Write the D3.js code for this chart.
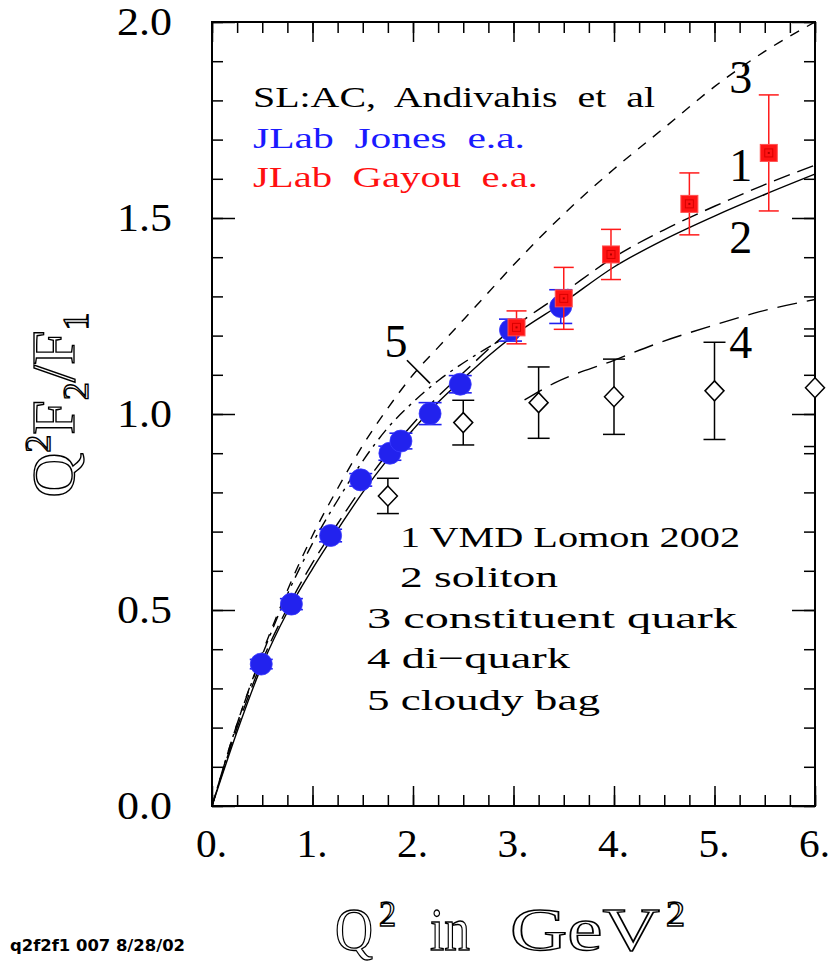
<!DOCTYPE html>
<html>
<head>
<meta charset="utf-8">
<script src="https://cdn.jsdelivr.net/npm/d3@7/dist/d3.min.js"></script>
<style>
  body { margin: 0; background: #fff; }
  svg { display: block; }
  text { white-space: pre; }
</style>
</head>
<body>
<svg id="chart" width="830" height="962"></svg>
<script>
// ---- model curves: Q^2 F2/F1 tabulated vs Q^2 (GeV^2) ----
const modelQ2 = [0, 0.25, 0.5, 0.75, 1, 1.25, 1.5, 1.75, 2, 2.25, 2.5, 2.75, 3, 3.5, 4, 4.5, 5, 5.5, 6];
const vmdLomon = [0, 0.20, 0.37, 0.505, 0.62, 0.72, 0.815, 0.90, 0.975, 1.045, 1.105, 1.165, 1.22, 1.31, 1.40, 1.47, 1.53, 1.585, 1.635];
const soliton = [0, 0.19, 0.36, 0.495, 0.605, 0.705, 0.80, 0.885, 0.96, 1.03, 1.09, 1.148, 1.20, 1.285, 1.375, 1.445, 1.505, 1.56, 1.612];
const constituentQuark = [0, 0.21, 0.39, 0.55, 0.69, 0.81, 0.92, 1.015, 1.10, 1.17, 1.24, 1.31, 1.38, 1.51, 1.625, 1.73, 1.835, 1.925, 2.0];
const cloudyBagQ2 = [0, 0.25, 0.5, 0.75, 1, 1.25, 1.5, 1.75, 2, 2.25, 2.5, 2.75, 3];
const cloudyBag = [0, 0.21, 0.385, 0.54, 0.67, 0.78, 0.88, 0.965, 1.03, 1.085, 1.13, 1.17, 1.205];
const diquarkQ2 = [3.11, 3.4, 4.0, 4.43, 5.0, 5.45, 6.0];
const diquark = [1.036, 1.078, 1.137, 1.18, 1.227, 1.261, 1.292];

// ---- data sets ----
const slacQ2 = [1.75, 2.5, 3.25, 4.0, 5.0, 6.0];
const slacVal = [0.791, 0.978, 1.029, 1.044, 1.059, 1.067];
const slacErr = [0.045, 0.057, 0.091, 0.096, 0.124, 0.15];

const jonesQ2 = [0.49, 0.79, 1.18, 1.48, 1.77, 1.88, 2.17, 2.47, 2.97, 3.47];
const jonesVal = [0.362, 0.515, 0.690, 0.832, 0.900, 0.931, 1.001, 1.076, 1.214, 1.274];
const jonesErr = [0.012, 0.014, 0.016, 0.016, 0.018, 0.020, 0.028, 0.022, 0.028, 0.043];

const gayouQ2 = [3.03, 3.50, 3.97, 4.75, 5.54];
const gayouVal = [1.221, 1.295, 1.407, 1.536, 1.666];
const gayouErr = [0.042, 0.079, 0.064, 0.079, 0.148];

// ---- axis ticks ----
const xMajorTicks = [0, 1, 2, 3, 4, 5, 6];
const xTickLabels = ["0.", "1.", "2.", "3.", "4.", "5.", "6."];
const yMajorTicks = [0, 0.5, 1.0, 1.5, 2.0];
const yTickLabels = ["0.0", "0.5", "1.0", "1.5", "2.0"];
const xMinorStep = 0.25;
const yMinorStep = 0.1;

const svg = d3.select("#chart");
const serif = "'Liberation Serif', 'DejaVu Serif', serif";

const x = d3.scaleLinear().domain([0, 6]).range([212, 815]);
const y = d3.scaleLinear().domain([0, 2]).range([806, 22]);

svg.append("defs").append("clipPath").attr("id", "plotClip")
  .append("rect")
  .attr("x", x(0)).attr("y", y(2))
  .attr("width", x(6) - x(0)).attr("height", y(0) - y(2));

// ---- frame and inward ticks on all four sides ----
const xMinor = d3.range(0, 6 + 1e-9, xMinorStep);
const yMinor = d3.range(0, 2 + 1e-9, yMinorStep);

function drawAxis(axis, transform) {
  const g = svg.append("g").attr("transform", transform).call(axis);
  g.select(".domain").remove();
  g.selectAll("text").remove();
  g.selectAll("line").attr("stroke", "#000").attr("stroke-width", 1.5);
}
drawAxis(d3.axisBottom(x).tickValues(xMinor).tickSize(-11), `translate(0,${y(0)})`);
drawAxis(d3.axisBottom(x).tickValues(xMajorTicks).tickSize(-20), `translate(0,${y(0)})`);
drawAxis(d3.axisTop(x).tickValues(xMinor).tickSize(-11), `translate(0,${y(2)})`);
drawAxis(d3.axisTop(x).tickValues(xMajorTicks).tickSize(-20), `translate(0,${y(2)})`);
drawAxis(d3.axisLeft(y).tickValues(yMinor).tickSize(-11), `translate(${x(0)},0)`);
drawAxis(d3.axisLeft(y).tickValues(yMajorTicks).tickSize(-23), `translate(${x(0)},0)`);
drawAxis(d3.axisRight(y).tickValues(yMinor).tickSize(-11), `translate(${x(6)},0)`);
drawAxis(d3.axisRight(y).tickValues(yMajorTicks).tickSize(-23), `translate(${x(6)},0)`);

svg.append("rect")
  .attr("x", x(0)).attr("y", y(2))
  .attr("width", x(6) - x(0)).attr("height", y(0) - y(2))
  .attr("fill", "none").attr("stroke", "#000").attr("stroke-width", 2);

// tick labels (wide roman digits)
svg.append("g").selectAll("text").data(xMajorTicks).join("text")
  .attr("x", d => x(d) - 16).attr("y", 857)
  .attr("font-family", serif).attr("font-size", 40)
  .attr("textLength", 31).attr("lengthAdjust", "spacingAndGlyphs")
  .text((d, i) => xTickLabels[i]);

svg.append("g").selectAll("text").data(yMajorTicks).join("text")
  .attr("x", 117).attr("y", d => y(d) + 13)
  .attr("font-family", serif).attr("font-size", 40)
  .attr("textLength", 55).attr("lengthAdjust", "spacingAndGlyphs")
  .text((d, i) => yTickLabels[i]);

// ---- axis titles (outlined lettering) ----
const outline = sel => sel
  .attr("font-family", serif)
  .attr("fill", "#fff").attr("stroke", "#000").attr("stroke-width", 1.4)
  .attr("lengthAdjust", "spacingAndGlyphs");

const xTitleParts = [
  { t: "Q", x0: 335, yb: 950, fs: 62, len: 38 },
  { t: "2", x0: 379, yb: 926, fs: 36, len: 17 },
  { t: "in", x0: 430, yb: 950, fs: 62, len: 40 },
  { t: "GeV", x0: 510, yb: 950, fs: 62, len: 150 },
  { t: "2", x0: 666, yb: 926, fs: 36, len: 19 }
];
svg.append("g").selectAll("text").data(xTitleParts).join("text")
  .call(outline)
  .attr("x", d => d.x0).attr("y", d => d.yb)
  .attr("font-size", d => d.fs)
  .attr("textLength", d => d.len)
  .text(d => d.t);

const yt = svg.append("text")
  .attr("transform", "translate(74,405) rotate(-90)")
  .attr("text-anchor", "middle")
  .attr("font-family", serif).attr("font-size", 62)
  .attr("fill", "#fff").attr("stroke", "#000").attr("stroke-width", 1.4);
yt.append("tspan").text("Q");
yt.append("tspan").attr("font-size", 36).attr("dy", -24).text("2");
yt.append("tspan").attr("dy", 24).text("F");
yt.append("tspan").attr("font-size", 36).attr("dy", 14).text("2");
yt.append("tspan").attr("dy", -14).text("/F");
yt.append("tspan").attr("font-size", 36).attr("dy", 14).text("1");

// footnote
svg.append("text")
  .attr("x", 10).attr("y", 951)
  .attr("font-family", "'DejaVu Sans Condensed', 'DejaVu Sans', sans-serif")
  .attr("font-weight", "bold").attr("font-size", 15)
  .attr("textLength", 175).attr("lengthAdjust", "spacingAndGlyphs")
  .text("q2f2f1 007 8/28/02");

// ---- model curves ----
const curves = svg.append("g").attr("clip-path", "url(#plotClip)")
  .attr("fill", "none").attr("stroke", "#000").attr("stroke-width", 1.4);

function drawCurve(qs, vals, dash) {
  const pts = qs.map((q, i) => [q, vals[i]]);
  curves.append("path")
    .attr("d", d3.line().x(d => x(d[0])).y(d => y(d[1])).curve(d3.curveMonotoneX)(pts))
    .attr("stroke-dasharray", dash);
}
drawCurve(modelQ2, soliton, null);
drawCurve(modelQ2, vmdLomon, "17,8");
drawCurve(modelQ2, constituentQuark, "10,9");
drawCurve(cloudyBagQ2, cloudyBag, "12,6,3,6");
drawCurve(diquarkQ2, diquark, "20,10");

// curve labels
const curveLabels = [
  { t: "3", q: 5.26, v: 1.82 },
  { t: "1", q: 5.26, v: 1.595 },
  { t: "2", q: 5.26, v: 1.41 },
  { t: "4", q: 5.26, v: 1.143 },
  { t: "5", q: 1.83, v: 1.145 }
];
svg.append("g").selectAll("text").data(curveLabels).join("text")
  .attr("x", d => x(d.q)).attr("y", d => y(d.v))
  .attr("text-anchor", "middle")
  .attr("font-family", serif).attr("font-size", 46)
  .text(d => d.t);

// pointer from label 5 to its curve
svg.append("line")
  .attr("x1", x(1.94)).attr("y1", y(1.137))
  .attr("x2", x(2.17)).attr("y2", y(1.078))
  .attr("stroke", "#000").attr("stroke-width", 1.6);

// ---- legends ----
const legendTop = [
  { t: "SL:AC,  Andivahis  et  al", c: "#000", yb: 107, len: 402 },
  { t: "JLab  Jones  e.a.", c: "#1a1aff", yb: 148, len: 272 },
  { t: "JLab  Gayou  e.a.", c: "#ff1010", yb: 187, len: 285 }
];
svg.append("g").selectAll("text").data(legendTop).join("text")
  .attr("x", 253).attr("y", d => d.yb)
  .attr("font-family", serif).attr("font-size", 30)
  .attr("fill", d => d.c)
  .attr("textLength", d => d.len).attr("lengthAdjust", "spacingAndGlyphs")
  .text(d => d.t);

const legendModels = [
  { t: "1 VMD Lomon 2002", x0: 400, yb: 547, len: 340 },
  { t: "2 soliton", x0: 400, yb: 587, len: 158 },
  { t: "3 constituent quark", x0: 367, yb: 628, len: 370 },
  { t: "4 di\u2212quark", x0: 367, yb: 668, len: 203 },
  { t: "5 cloudy bag", x0: 367, yb: 710, len: 233 }
];
svg.append("g").selectAll("text").data(legendModels).join("text")
  .attr("x", d => d.x0).attr("y", d => d.yb)
  .attr("font-family", serif).attr("font-size", 30)
  .attr("textLength", d => d.len).attr("lengthAdjust", "spacingAndGlyphs")
  .text(d => d.t);

// ---- error bars helper ----
function errorBars(g, qs, vals, errs, color, cap, width) {
  qs.forEach((q, i) => {
    const cx = x(q), y1 = y(vals[i] + errs[i]), y2 = y(vals[i] - errs[i]);
    g.append("line").attr("x1", cx).attr("x2", cx).attr("y1", y1).attr("y2", y2);
    g.append("line").attr("x1", cx - cap).attr("x2", cx + cap).attr("y1", y1).attr("y2", y1);
    g.append("line").attr("x1", cx - cap).attr("x2", cx + cap).attr("y1", y2).attr("y2", y2);
  });
  g.attr("stroke", color).attr("stroke-width", width);
}

// SLAC: open diamonds
errorBars(svg.append("g").attr("clip-path", "url(#plotClip)"), slacQ2, slacVal, slacErr, "#000", 11, 1.5);
svg.append("g").selectAll("path").data(slacQ2).join("path")
  .attr("d", (q, i) => {
    const cx = x(q), cy = y(slacVal[i]);
    return `M${cx},${cy - 10}L${cx + 9.5},${cy}L${cx},${cy + 10}L${cx - 9.5},${cy}Z`;
  })
  .attr("fill", "#fff").attr("stroke", "#000").attr("stroke-width", 1.5);

// JLab Jones: filled blue circles
errorBars(svg.append("g"), jonesQ2, jonesVal, jonesErr, "#2020f0", 11.5, 1.6);
svg.append("g").selectAll("circle").data(jonesQ2).join("circle")
  .attr("cx", d => x(d)).attr("cy", (d, i) => y(jonesVal[i]))
  .attr("r", 11)
  .attr("fill", "#2222ee").attr("stroke", "#3a3aff").attr("stroke-width", 0.8);

// JLab Gayou: filled red squares
errorBars(svg.append("g"), gayouQ2, gayouVal, gayouErr, "#ff1a1a", 10, 1.5);
const sq = svg.append("g").selectAll("g").data(gayouQ2).join("g")
  .attr("transform", (d, i) => `translate(${x(d)},${y(gayouVal[i])})`);
sq.append("rect").attr("x", -8.5).attr("y", -8.5).attr("width", 17).attr("height", 17)
  .attr("fill", "#ff1414").attr("stroke", "#ff5050").attr("stroke-width", 1);
sq.append("rect").attr("x", -4).attr("y", -4).attr("width", 8).attr("height", 8)
  .attr("fill", "none").attr("stroke", "#d80000").attr("stroke-width", 1);
sq.append("rect").attr("x", -1).attr("y", -1).attr("width", 2).attr("height", 2)
  .attr("fill", "#b00000");
</script>
</body>
</html>
